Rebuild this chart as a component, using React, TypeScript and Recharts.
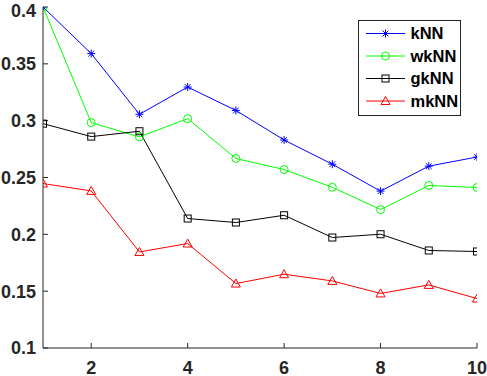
import React from "react";
import { LineChart, Line, XAxis, YAxis, Legend } from "recharts";

const xValues = [1, 2, 3, 4, 5, 6, 7, 8, 9, 10];
const kNN = [0.4, 0.359, 0.3056, 0.3296, 0.309, 0.283, 0.2617, 0.238, 0.26, 0.268];
const wkNN = [0.4, 0.2983, 0.2857, 0.3018, 0.2667, 0.257, 0.2414, 0.2218, 0.243, 0.2412];
const gkNN = [0.2974, 0.286, 0.2907, 0.2139, 0.2104, 0.2168, 0.1972, 0.2001, 0.1858, 0.1849];
const mkNN = [0.2447, 0.2382, 0.1845, 0.1919, 0.1567, 0.1649, 0.159, 0.148, 0.1555, 0.1435];

const xTicks = [2, 4, 6, 8, 10];
const yTicks = [0.1, 0.15, 0.2, 0.25, 0.3, 0.35, 0.4];
const yLabels = ["0.1", "0.15", "0.2", "0.25", "0.3", "0.35", "0.4"];

const seriesNames = ["kNN", "wkNN", "gkNN", "mkNN"];
const seriesColors = ["#0000FF", "#00FF00", "#000000", "#FF0000"];
const seriesMarkers = ["star", "circle", "square", "triangle"];

const data = xValues.map((x, i) => ({
  x,
  kNN: kNN[i],
  wkNN: wkNN[i],
  gkNN: gkNN[i],
  mkNN: mkNN[i],
}));

const FONT = "Arial, 'Liberation Sans', Helvetica, sans-serif";
const AXIS = "#262626";

function Marker({ type, cx, cy, color }: { type: string; cx: number; cy: number; color: string }) {
  const s = 4;
  if (type === "star") {
    const d = s * 0.72;
    return (
      <g stroke={color} strokeWidth={1} fill="none">
        <line x1={cx} y1={cy - s} x2={cx} y2={cy + s} />
        <line x1={cx - s} y1={cy} x2={cx + s} y2={cy} />
        <line x1={cx - d} y1={cy - d} x2={cx + d} y2={cy + d} />
        <line x1={cx - d} y1={cy + d} x2={cx + d} y2={cy - d} />
      </g>
    );
  }
  if (type === "circle") {
    return <circle cx={cx} cy={cy} r={4} stroke={color} strokeWidth={1} fill="none" />;
  }
  if (type === "square") {
    return <rect x={cx - 3.5} y={cy - 3.5} width={7} height={7} stroke={color} strokeWidth={1} fill="none" />;
  }
  return (
    <polygon
      points={`${cx},${cy - 4.5} ${cx - 4.5},${cy + 3.5} ${cx + 4.5},${cy + 3.5}`}
      stroke={color}
      strokeWidth={1}
      fill="none"
    />
  );
}

function makeDot(type: string, color: string) {
  return (props: any) => {
    const { cx, cy, index } = props;
    if (cx == null || cy == null) return <g key={`d-${index}`} />;
    return (
      <g key={`d-${type}-${index}`}>
        <Marker type={type} cx={cx} cy={cy} color={color} />
      </g>
    );
  };
}

function LegendBox() {
  const w = 103;
  const h = 96;
  const rowY = [13.5, 36, 58.5, 81];
  return (
    <svg width={w} height={h} style={{ display: "block" }}>
      <rect x={0.5} y={0.5} width={w - 1} height={h - 1} fill="#fff" stroke={AXIS} strokeWidth={1} />
      {seriesNames.map((name, i) => (
        <g key={name}>
          <line x1={8} y1={rowY[i]} x2={47} y2={rowY[i]} stroke={seriesColors[i]} strokeWidth={1} />
          <Marker type={seriesMarkers[i]} cx={27.5} cy={rowY[i]} color={seriesColors[i]} />
          <text
            x={52.5}
            y={rowY[i]}
            dy="0.36em"
            fontFamily={FONT}
            fontWeight="bold"
            fontSize={16.5}
            fill="#000"
          >
            {name}
          </text>
        </g>
      ))}
    </svg>
  );
}

const yFmt = (v: number) => {
  const idx = yTicks.findIndex((t) => Math.abs(t - v) < 1e-9);
  return idx >= 0 ? yLabels[idx] : String(v);
};

export default function App() {
  const tickStyle = { fill: AXIS, fontFamily: FONT, fontWeight: "bold", fontSize: 18 } as any;
  return (
    <div style={{ position: "absolute", left: 0, top: 0, width: 487, height: 376, background: "#fff" }}>
      <LineChart width={487} height={376} data={data} margin={{ top: 7, right: 10, bottom: 0, left: 0 }}>
        <XAxis
          dataKey="x"
          type="number"
          domain={[1, 10]}
          ticks={xTicks}
          allowDataOverflow
          height={28}
          tickSize={-5}
          tickMargin={18}
          tick={tickStyle}
          stroke={AXIS}
          axisLine={{ stroke: AXIS }}
          tickLine={{ stroke: AXIS }}
        />
        <XAxis
          xAxisId="top"
          orientation="top"
          dataKey="x"
          type="number"
          domain={[1, 10]}
          ticks={xTicks}
          allowDataOverflow
          height={0}
          tickSize={-5}
          tick={false as any}
          axisLine={{ stroke: AXIS }}
          tickLine={{ stroke: AXIS }}
        />
        <YAxis
          type="number"
          domain={[0.1, 0.4]}
          ticks={yTicks}
          allowDataOverflow
          width={43}
          tickSize={-5}
          tickMargin={12}
          tickFormatter={yFmt}
          tick={tickStyle}
          axisLine={{ stroke: AXIS }}
          tickLine={{ stroke: AXIS }}
        />
        <YAxis
          yAxisId="right"
          orientation="right"
          type="number"
          domain={[0.1, 0.4]}
          ticks={yTicks}
          allowDataOverflow
          width={0}
          tickSize={-5}
          tick={false as any}
          axisLine={{ stroke: AXIS }}
          tickLine={{ stroke: AXIS }}
        />
        {seriesNames.map((name, i) => (
          <Line
            key={name}
            dataKey={name}
            stroke={seriesColors[i]}
            strokeWidth={1}
            dot={makeDot(seriesMarkers[i], seriesColors[i])}
            activeDot={false}
            isAnimationActive={false}
          />
        ))}
        <Legend
          layout="horizontal"
          verticalAlign="middle"
          align="center"
          content={() => <LegendBox />}
          wrapperStyle={{ position: "absolute", left: 358, top: 20, width: 103, height: 96 }}
        />
      </LineChart>
    </div>
  );
}
